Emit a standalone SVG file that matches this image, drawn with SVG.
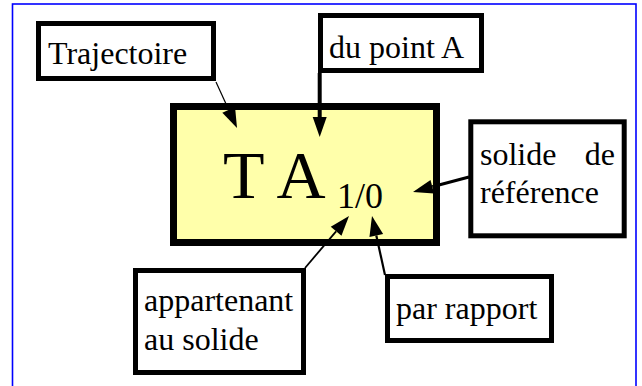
<svg xmlns="http://www.w3.org/2000/svg" width="642" height="386" viewBox="0 0 642 386" font-family="Liberation Serif, Times New Roman, serif">
<style>
.box{fill:#fff;stroke:#000;stroke-width:5}
.main{fill:#FFFFAA;stroke:#000;stroke-width:7}
.c{fill:none;stroke:#000}
</style>
<defs>
<marker id="ah" markerUnits="userSpaceOnUse" markerWidth="20" markerHeight="14" viewBox="0 -7 20 14" refX="0" refY="0" orient="auto" overflow="visible">
<path d="M0,-7 L20,0 L0,7 z" fill="#000"/>
</marker>
</defs>
<rect x="12.5" y="4" width="623.5" height="390" fill="#fff" stroke="#0000FF" stroke-width="1.6"/>
<g id="main">
<rect class="main" x="173.5" y="106.5" width="263" height="136"/>
<text x="223" y="198" font-family="Liberation Serif, Times New Roman, serif" font-size="68">T A</text>
<text x="337" y="208" font-family="Liberation Serif, Times New Roman, serif" font-size="36">1/0</text>
</g>
<g id="trajectoire" font-family="Liberation Serif, Times New Roman, serif" font-size="32">
<rect class="box" x="38.5" y="23.5" width="175" height="55"/>
<text x="48" y="64">Trajectoire</text>
</g>
<g id="dupoint" font-family="Liberation Serif, Times New Roman, serif" font-size="32">
<rect class="box" x="320.5" y="15.5" width="161" height="55"/>
<text x="329" y="58">du point A</text>
</g>
<g id="solide" font-family="Liberation Serif, Times New Roman, serif" font-size="32">
<rect class="box" x="470.8" y="121.8" width="153.4" height="114"/>
<text x="480" y="165">solide</text>
<text x="615" y="165" text-anchor="end">de</text>
<text x="480" y="203">référence</text>
</g>
<g id="appartenant" font-family="Liberation Serif, Times New Roman, serif" font-size="32">
<rect class="box" x="135.5" y="270.5" width="168" height="102"/>
<text x="144" y="311">appartenant</text>
<text x="144" y="350">au solide</text>
</g>
<g id="parrapport" font-family="Liberation Serif, Times New Roman, serif" font-size="32">
<rect class="box" x="387.5" y="276.5" width="164" height="64"/>
<text x="396" y="319">par rapport</text>
</g>
<g id="connectors">
<path class="c" d="M216,82 L228.7,109.8" stroke-width="1.2" marker-end="url(#ah)"/>
<path class="c" d="M319.7,73 L319.7,117" stroke-width="4" marker-end="url(#ah)"/>
<path class="c" d="M469,177 L432.3,186.8" stroke-width="3" marker-end="url(#ah)"/>
<path class="c" d="M305,268 L336.1,231.3" stroke-width="1.8" marker-end="url(#ah)"/>
<path class="c" d="M385,275 L376.3,235.5" stroke-width="2.2" marker-end="url(#ah)"/>
</g>
</svg>
